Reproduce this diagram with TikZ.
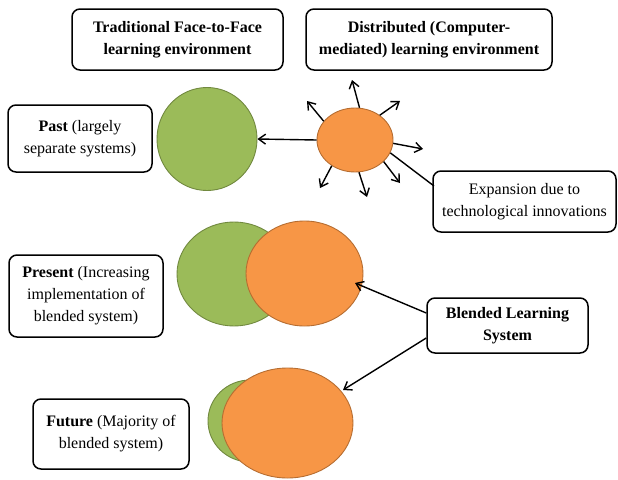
\documentclass[tikz,border=0pt]{standalone}
\usepackage{fontspec}
\setmainfont{Liberation Serif}
\usetikzlibrary{shapes.geometric,arrows.meta,calc}
\definecolor{blgreen}{HTML}{9BBB59}
\definecolor{blgreenedge}{HTML}{71893F}
\definecolor{blorange}{HTML}{F79646}
\definecolor{blorangeedge}{HTML}{B66D31}
\tikzset{
  label box/.style={draw=black, line width=1.5pt, rounded corners=8pt, fill=white,
    align=center, inner sep=0pt, font=\fontsize{16}{22}\selectfont},
  green blob/.style={ellipse, draw=blgreenedge, line width=0.9pt, fill=blgreen, inner sep=0pt},
  orange blob/.style={ellipse, draw=blorangeedge, line width=0.9pt, fill=blorange, inner sep=0pt},
  link/.style={draw=black, line width=1.4pt},
  pointer/.style={link, -{Straight Barb[length=7pt,width=10pt,line width=1.4pt]}}
}
\begin{document}
\begin{tikzpicture}[x=1pt, y=-1pt]
\useasboundingbox (0,0) rectangle (618,479);

% heading boxes
\node[label box, minimum width=211pt, minimum height=61pt] (trad) at (177.5,39.5)
  {\textbf{Traditional Face-to-Face}\\\textbf{learning environment}};
\node[label box, minimum width=246pt, minimum height=61pt] (dist) at (429,39.5)
  {\textbf{Distributed (Computer-}\\\textbf{mediated) learning environment}};

% past: two separate systems
\node[green blob, minimum width=100pt, minimum height=103pt] (gpast) at (207,139) {};
\node[orange blob, minimum width=76pt, minimum height=64pt] (opast) at (355,140) {};
\node[label box, minimum width=144pt, minimum height=67pt] (past) at (80,138.5)
  {\textbf{Past} (largely\\separate systems)};
\node[label box, minimum width=183pt, minimum height=61pt] (expand) at (524.5,201.5)
  {Expansion due to\\technological innovations};

\draw[pointer] (opast.west) -- (gpast.east);

% outward growth of the distributed system
\coordinate (r1) at (352,80);
\coordinate (r2) at (307,101);
\coordinate (r3) at (400,101);
\coordinate (r4) at (423,149);
\coordinate (r5) at (400,183);
\coordinate (r6) at (367,197);
\coordinate (r7) at (320,188);
\draw[pointer] (opast.82)   -- (r1);
\draw[pointer] (opast.149)  -- (r2);
\draw[pointer] (opast.45)   -- (r3);
\draw[pointer] (opast.-5)   -- (r4);
\draw[pointer] (opast.-37)  -- (r5);
\draw[pointer] (opast.-83)  -- (r6);
\draw[pointer] (opast.-132) -- (r7);
\coordinate (expin) at (434,186);
\draw[link] (opast.-20) -- (expin);

% present: overlapping systems
\node[green blob, minimum width=114pt, minimum height=104pt] (gpres) at (234,274) {};
\node[orange blob, minimum width=117pt, minimum height=105pt] (opres) at (304.5,273.5) {};
\node[label box, minimum width=154pt, minimum height=82pt] (present) at (86,296)
  {\textbf{Present} (Increasing\\implementation of\\blended system)};

% future: blended system dominates
\node[green blob, minimum width=84pt, minimum height=82pt] (gfut) at (250,421) {};
\node[orange blob, minimum width=131pt, minimum height=110pt] (ofut) at (287.5,423) {};
\node[label box, minimum width=156pt, minimum height=70pt] (future) at (111,434)
  {\textbf{Future} (Majority of\\blended system)};

% blended learning label and its pointers
\node[label box, minimum width=161pt, minimum height=55pt] (blend) at (507.5,325.5)
  {\textbf{Blended Learning}\\\textbf{System}};
\coordinate (bpres) at (355,283);
\coordinate (bfut) at (343,390);
\draw[pointer] ($(blend.west)+(0,-12.5)$) -- (bpres);
\draw[pointer] ($(blend.west)+(0,12.5)$) -- (bfut);
\end{tikzpicture}
\end{document}
